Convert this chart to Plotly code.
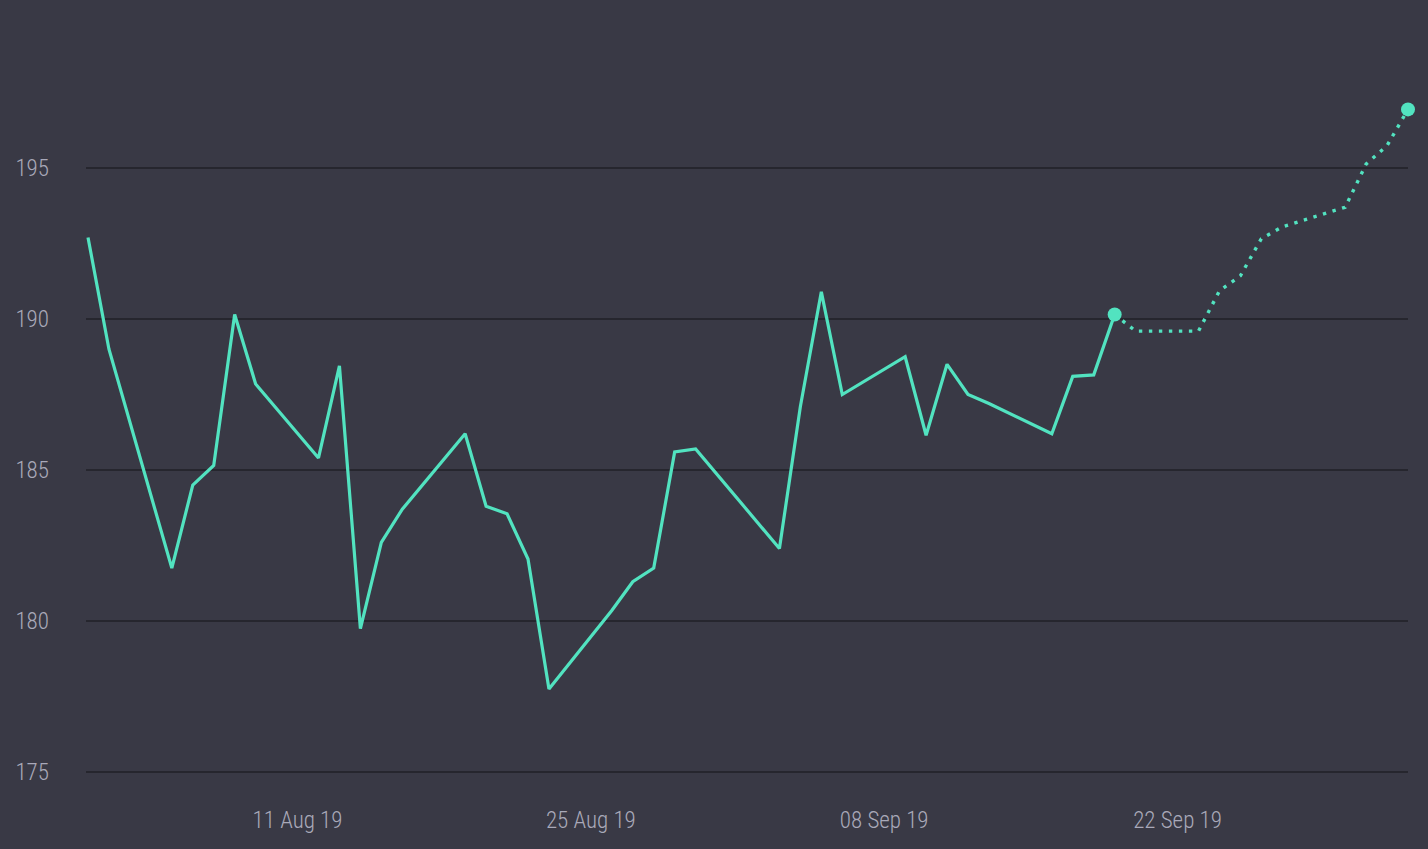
import plotly.graph_objects as go

# Observed prices (weekdays, Labor Day missing)
hist_dates = [
    '2019-08-01', '2019-08-02', '2019-08-05', '2019-08-06', '2019-08-07',
    '2019-08-08', '2019-08-09', '2019-08-12', '2019-08-13', '2019-08-14',
    '2019-08-15', '2019-08-16', '2019-08-19', '2019-08-20', '2019-08-21',
    '2019-08-22', '2019-08-23', '2019-08-26', '2019-08-27', '2019-08-28',
    '2019-08-29', '2019-08-30', '2019-09-03', '2019-09-04', '2019-09-05',
    '2019-09-06', '2019-09-09', '2019-09-10', '2019-09-11', '2019-09-12',
    '2019-09-13', '2019-09-16', '2019-09-17', '2019-09-18', '2019-09-19',
]
hist_values = [
    192.7, 189.0, 181.75, 184.5, 185.15,
    190.15, 187.85, 185.4, 188.45, 179.75,
    182.6, 183.7, 186.2, 183.8, 183.55,
    182.05, 177.75, 180.35, 181.3, 181.75,
    185.6, 185.7, 182.4, 187.1, 190.9,
    187.5, 188.75, 186.15, 188.5, 187.5,
    187.2, 186.2, 188.1, 188.15, 190.15,
]

# Forecast (dotted)
fc_dates = [
    '2019-09-19', '2019-09-20', '2019-09-23', '2019-09-24', '2019-09-25',
    '2019-09-26', '2019-09-27', '2019-09-30', '2019-10-01', '2019-10-02',
    '2019-10-03',
]
fc_values = [
    190.15, 189.6, 189.6, 190.93, 191.43,
    192.66, 193.05, 193.7, 195.13, 195.74,
    196.94,
]

y_ticks = [175, 180, 185, 190, 195]

colors = {
    'background': '#393945',
    'grid': '#26262e',
    'line': '#52e3c0',
    'text': '#a9a9b9',
}
font_family = "Roboto Condensed, Liberation Sans Narrow, DejaVu Sans Condensed, Roboto, sans-serif"

fig = go.Figure()

fig.add_trace(go.Scatter(
    x=hist_dates, y=hist_values, mode='lines',
    line=dict(color=colors['line'], width=3.2),
    showlegend=False, hoverinfo='skip',
))
fig.add_trace(go.Scatter(
    x=fc_dates, y=fc_values, mode='lines',
    line=dict(color=colors['line'], width=3.4, dash='3.4px,6.6px'),
    showlegend=False, hoverinfo='skip',
))
# end-point markers
fig.add_trace(go.Scatter(
    x=[fc_dates[0], fc_dates[-1]], y=[fc_values[0], fc_values[-1]],
    mode='markers', marker=dict(color=colors['line'], size=14),
    cliponaxis=False, showlegend=False, hoverinfo='skip',
))

fig.update_layout(
    width=1428, height=849,
    paper_bgcolor=colors['background'],
    plot_bgcolor=colors['background'],
    margin=dict(t=0, b=59, l=86, r=20),
    font=dict(family=font_family, size=23, weight=300, color=colors['text']),
    showlegend=False,
    xaxis=dict(
        type='date',
        range=['2019-07-31 21:42', '2019-10-03'],
        tick0='2019-08-11', dtick=14 * 86400000,
        tickformat='%d %b %y',
        showgrid=False, zeroline=False, showline=False, ticks='',
        ticklabelstandoff=14,
    ),
    yaxis=dict(
        range=[174.404, 200.563],
        tickvals=y_ticks,
        showgrid=True, gridcolor=colors['grid'], gridwidth=2,
        zeroline=False, showline=False, ticks='',
        ticklabelstandoff=36,
    ),
)

# page without the default body margin so the chart fills the window
fig.write_html("out.html", config={'displayModeBar': False},
               post_script="document.body.style.margin='0';")
